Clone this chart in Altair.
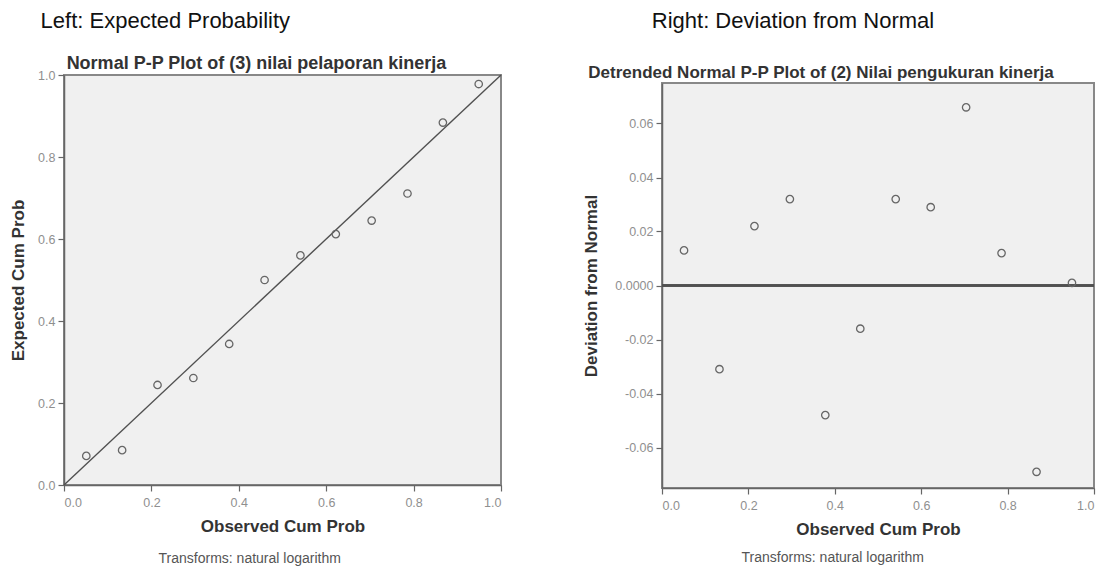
import altair as alt
import pandas as pd

# ---- data ----
obs_cum_prob = [0.051, 0.133, 0.214, 0.296, 0.378, 0.459, 0.541, 0.622, 0.704, 0.786, 0.867, 0.949]
expected_cum_prob = [0.071, 0.085, 0.244, 0.261, 0.344, 0.500, 0.560, 0.612, 0.645, 0.711, 0.884, 0.978]
deviation = [0.013, -0.031, 0.022, 0.032, -0.048, -0.016, 0.032, 0.029, 0.066, 0.012, -0.069, 0.001]
ref_line_x = [0.0, 1.0]
ref_line_y = [0.0, 1.0]
x_ticks = [0.0, 0.2, 0.4, 0.6, 0.8, 1.0]
left_y_ticks = [0.0, 0.2, 0.4, 0.6, 0.8, 1.0]
right_y_ticks = [-0.06, -0.04, -0.02, 0.0, 0.02, 0.04, 0.06]

left_header = "Left: Expected Probability"
right_header = "Right: Deviation from Normal"
left_title = "Normal P-P Plot of (3) nilai pelaporan kinerja"
right_title = "Detrended Normal P-P Plot of (2)  Nilai pengukuran kinerja"
footnote = "Transforms: natural logarithm"

left_df = pd.DataFrame({"obs": obs_cum_prob, "val": expected_cum_prob})
right_df = pd.DataFrame({"obs": obs_cum_prob, "val": deviation})
ref_df = pd.DataFrame({"obs": ref_line_x, "val": ref_line_y})
blank_df = pd.DataFrame({"k": [0]})

FONT = "Liberation Sans"
PT_COLOR = "#666666"
LINE_COLOR = "#505050"


def x_enc():
    return alt.X(
        "obs:Q",
        scale=alt.Scale(domain=[0, 1], nice=False, zero=False),
        axis=alt.Axis(values=x_ticks, format=".1f", title="Observed Cum Prob"),
    )


pts_style = dict(shape="circle", filled=False, size=55, color=PT_COLOR, strokeWidth=1.3, opacity=1)

# Left panel
left_pts = alt.Chart(left_df).mark_point(**pts_style).encode(
    x=x_enc(),
    y=alt.Y(
        "val:Q",
        scale=alt.Scale(domain=[0, 1], nice=False, zero=False),
        axis=alt.Axis(values=left_y_ticks, format=".1f", title="Expected Cum Prob", titlePadding=10),
    ),
)
left_line = alt.Chart(ref_df).mark_line(color=LINE_COLOR, strokeWidth=1.4).encode(
    x=alt.X("obs:Q"), y=alt.Y("val:Q")
)
left_layer = alt.layer(left_line, left_pts).properties(
    width=437,
    height=410,
    title=alt.TitleParams(
        left_title, fontSize=18, fontWeight="bold", font=FONT, color="#333",
        anchor="middle", frame="group", dx=-26, offset=-4,
    ),
)

# Right panel
right_pts = alt.Chart(right_df).mark_point(**pts_style).encode(
    x=x_enc(),
    y=alt.Y(
        "val:Q",
        scale=alt.Scale(domain=[-0.075, 0.075], nice=False, zero=False),
        axis=alt.Axis(
            values=right_y_ticks,
            labelExpr="datum.value == 0 ? '0.0000' : replace(format(datum.value, '.2f'), '\u2212', '-')",
            title="Deviation from Normal",
            titlePadding=14,
        ),
    ),
)
right_rule = alt.Chart(right_df).mark_rule(color=LINE_COLOR, strokeWidth=1.3).encode(
    y=alt.datum(0)
)
right_layer = alt.layer(right_rule, right_pts).properties(
    width=432,
    height=405,
    title=alt.TitleParams(
        right_title, fontSize=17, fontWeight="bold", font=FONT, color="#333",
        anchor="middle", frame="group", dx=-57, offset=1,
    ),
)


def spacer(w, h):
    return alt.Chart(blank_df).mark_point(opacity=0).encode(
        x=alt.value(0), y=alt.value(0)
    ).properties(
        width=w, height=h,
        view=alt.ViewBackground(fill="transparent", stroke="transparent", strokeWidth=0),
    )


def wrap(layer, w, gap, header, foot_dx, foot_off, head_dx):
    inner = alt.vconcat(
        layer,
        title=alt.TitleParams(
            footnote, orient="bottom", fontSize=14, fontWeight="normal", font=FONT,
            color="#555", anchor="middle", dx=foot_dx, offset=foot_off,
        ),
    )
    return alt.vconcat(
        spacer(w, gap),
        inner,
        spacing=0,
        title=alt.TitleParams(
            header, fontSize=22, fontWeight="normal", font=FONT, color="#111",
            anchor="start", dx=head_dx, offset=0,
        ),
    )


chart = alt.concat(
    wrap(left_layer, 437, 18, left_header, -7, 16, 32),
    wrap(right_layer, 432, 27, right_header, -6, 12, 70),
    columns=2,
    align="none",
    spacing=76,
).properties(
    padding={"left": 0, "top": 2, "right": 0, "bottom": 0}
).configure_view(
    fill="#f0f0f0", stroke="#888", strokeWidth=2
).configure_axis(
    grid=False,
    labelFont=FONT, labelFontSize=12.5, labelColor="#8f8f8f",
    titleFont=FONT, titleFontSize=17, titleFontWeight="bold", titleColor="#333",
    domainColor="#666", domainWidth=1.5, tickColor="#666", tickSize=6, tickWidth=1.2,
    labelPadding=3,
).configure_axisX(titlePadding=10, labelPadding=5).configure_concat(spacing=0)

chart.save("out.html", embed_options={"renderer": "svg", "actions": False})
